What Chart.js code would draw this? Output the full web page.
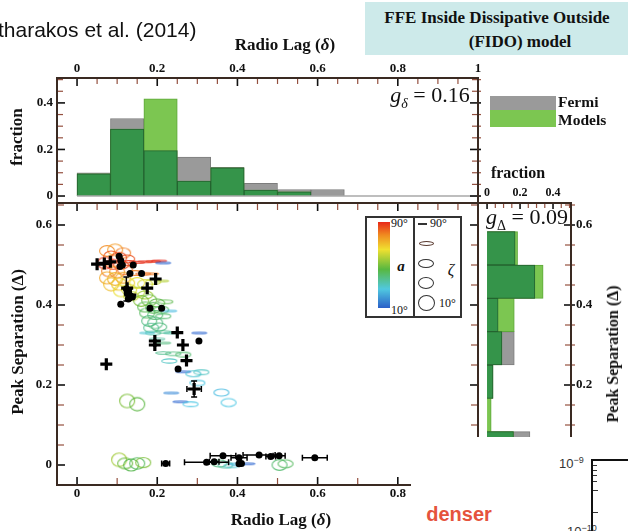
<!DOCTYPE html>
<html><head><meta charset="utf-8">
<script src="https://cdn.jsdelivr.net/npm/chart.js@4/dist/chart.umd.min.js"></script>
<style>
html,body{margin:0;padding:0;background:#fff;width:628px;height:531px;overflow:hidden;position:relative;font-family:"Liberation Serif",serif;}
canvas{position:absolute;left:0;top:0;}
.t{position:absolute;white-space:nowrap;color:#111;}
.c{transform:translate(-50%,-50%);}
.b{font-weight:bold;}
</style></head><body>
<canvas id="cTop" width="628" height="531"></canvas>
<canvas id="cMain" width="628" height="531"></canvas>
<canvas id="cRight" width="628" height="531"></canvas>

<div class="t" style="left:-2px;top:18px;font-family:'Liberation Sans',sans-serif;font-size:21px;">tharakos et al. (2014)</div>
<div style="position:absolute;left:365px;top:2px;width:263px;height:53px;background:#cdeaea;"></div>
<div class="t b c" style="left:497px;top:18px;font-size:17px;">FFE Inside Dissipative Outside</div>
<div class="t b c" style="left:520px;top:42px;font-size:17px;">(FIDO) model</div>

<div class="t b c" style="left:285px;top:45px;font-size:17px;">Radio Lag (<i>δ</i>)</div>
<div class="t b c" style="left:17px;top:137px;font-size:17px;transform:translate(-50%,-50%) rotate(-90deg);">fraction</div>
<div class="t c" style="left:430px;top:97px;font-size:22px;"><i>g</i><sub style="font-size:14px;"><i>δ</i></sub> = 0.16</div>
<div style="position:absolute;left:490px;top:96px;width:66px;height:14px;background:#9a9a9a;"></div>
<div style="position:absolute;left:490px;top:110px;width:66px;height:17px;background:#7cc651;"></div>
<div class="t b" style="left:558px;top:93px;font-size:15.5px;">Fermi</div>
<div class="t b" style="left:558px;top:111px;font-size:15.5px;">Models</div>

<div class="t b c" style="left:518px;top:173px;font-size:16px;">fraction</div>
<div class="t c" style="left:527px;top:219px;font-size:22px;"><i>g</i><sub style="font-size:14px;">Δ</sub> = 0.09</div>
<div class="t b c" style="left:18px;top:342px;font-size:17px;transform:translate(-50%,-50%) rotate(-90deg);">Peak Separation (Δ)</div>
<div class="t b c" style="left:613px;top:354px;font-size:16px;transform:translate(-50%,-50%) rotate(-90deg);">Peak Separation (Δ)</div>
<div class="t b c" style="left:281px;top:520px;font-size:17px;">Radio Lag (<i>δ</i>)</div>

<!-- colour / zeta legend -->
<div style="position:absolute;left:365px;top:216px;width:93px;height:98px;border:2px solid #333;background:#fff;"></div>
<div style="position:absolute;left:413px;top:216px;width:2px;height:102px;background:#333;"></div>
<div style="position:absolute;left:378px;top:222px;width:12px;height:86px;background:linear-gradient(to bottom,#e82818 0%,#f08a20 15%,#f0e030 32%,#58b840 55%,#50c8e0 78%,#2a5fc8 100%);"></div>
<div class="t" style="left:391px;top:216px;font-size:12px;">90°</div>
<div class="t" style="left:391px;top:303px;font-size:12px;">10°</div>
<div class="t b c" style="left:401px;top:266px;font-size:15px;"><i>a</i></div>
<div style="position:absolute;left:418px;top:223px;width:9px;height:1.5px;background:#333;"></div>
<div class="t" style="left:430px;top:216px;font-size:12px;">90°</div>
<div style="position:absolute;left:419px;top:241px;width:13px;height:3px;border:1px solid #5a3a30;border-radius:50%;"></div>
<div style="position:absolute;left:418px;top:259px;width:14px;height:7px;border:1.2px solid #333;border-radius:50%;"></div>
<div style="position:absolute;left:418px;top:277px;width:14px;height:10px;border:1.2px solid #333;border-radius:50%;"></div>
<div style="position:absolute;left:418px;top:295px;width:15px;height:14px;border:1.2px solid #333;border-radius:50%;"></div>
<div class="t c" style="left:451px;top:270px;font-size:16px;"><i>ζ</i></div>
<div class="t" style="left:439px;top:296px;font-size:12px;">10°</div>

<!-- overlay from the slide -->
<div style="position:absolute;left:411px;top:437px;width:217px;height:94px;background:#fff;"></div>
<div class="t b c" style="left:459px;top:514px;font-family:'Liberation Sans',sans-serif;font-size:20px;color:#e5533d;">denser</div>
<div class="t" style="left:559px;top:455px;font-family:'Liberation Sans',sans-serif;font-size:13px;color:#333;">10<sup style="font-size:9px;">−9</sup></div>
<div class="t" style="left:567px;top:523px;font-family:'Liberation Sans',sans-serif;font-size:13px;color:#333;">10<sup style="font-size:9px;">−10</sup></div>
<div style="position:absolute;left:591px;top:459px;width:40px;height:80px;border-left:2px solid #111;border-top:2px solid #111;"></div>
<div style="position:absolute;left:593px;top:465px;width:4px;height:1px;background:#333;"></div>
<div style="position:absolute;left:593px;top:470px;width:4px;height:1px;background:#333;"></div>
<div style="position:absolute;left:593px;top:475px;width:4px;height:1px;background:#333;"></div>
<div style="position:absolute;left:593px;top:481px;width:4px;height:1px;background:#333;"></div>
<div style="position:absolute;left:593px;top:490px;width:5px;height:1px;background:#333;"></div>
<div style="position:absolute;left:593px;top:512px;width:5px;height:1px;background:#333;"></div>

<script>
// ---------------- data ----------------
const lagTicks = [0, 0.2, 0.4, 0.6, 0.8, 1];
const lagTicksMain = [0, 0.2, 0.4, 0.6, 0.8];
const fracTicksTop = [0, 0.2, 0.4];
const sepTicks = [0, 0.2, 0.4, 0.6];
const sepTicksRight = [0.2, 0.4, 0.6];
const fracTicksRight = [0, 0.2, 0.4];

// Radio lag histogram (bins of width 1/12)
const lagBins   = [0.0417, 0.125, 0.2083, 0.2917, 0.375, 0.4583, 0.5417, 0.625];
const lagFermi  = [0.100, 0.333, 0.195, 0.167, 0.123, 0.055, 0.028, 0.028];
const lagModels = [0.095, 0.288, 0.417, 0.064, 0.121, 0.026, 0.018, 0];

// Peak separation histogram (bins of width 1/12)
const sepBins   = [0.0417, 0.125, 0.2083, 0.2917, 0.375, 0.4583, 0.5417];
const sepFermi  = [0.26, 0, 0.036, 0.165, 0.067, 0.29, 0.17];
const sepModels = [0.16, 0.025, 0.036, 0.09, 0.165, 0.34, 0.185];

// Model ellipses: position, alpha (colour) and zeta (shape)
const ellX = [0.075,0.095,0.115,0.085,0.105,0.125,0.07,0.09,0.11,0.13,0.15,0.17,0.19,0.205,0.215,
  0.08,0.10,0.12,0.145,0.165,0.185,0.075,0.095,0.115,0.085,0.105,0.125,0.15,0.17,0.19,0.21,
  0.11,0.13,0.15,0.17,0.135,0.16,0.18,0.20,0.22,0.17,0.19,0.21,0.23,0.175,0.195,0.215,
  0.18,0.195,0.185,0.205,0.19,0.215,0.235,0.175,0.20,0.215,0.305,
  0.215,0.24,0.265,0.23,0.265,0.29,0.31,0.30,0.235,0.36,0.125,0.15,0.258,0.283,0.378,
  0.105,0.12,0.135,0.15,0.165,0.355,0.37,0.385,0.40,0.425,0.505,0.52];
const ellY = [0.535,0.538,0.530,0.520,0.518,0.515,0.505,0.502,0.500,0.505,0.507,0.508,0.509,0.510,0.505,
  0.485,0.483,0.487,0.480,0.478,0.478,0.468,0.465,0.468,0.452,0.452,0.455,0.455,0.452,0.458,0.46,
  0.435,0.438,0.432,0.425,0.422,0.41,0.412,0.405,0.408,0.395,0.393,0.388,0.385,0.38,0.375,0.372,
  0.36,0.355,0.343,0.345,0.33,0.333,0.33,0.33,0.315,0.305,0.33,
  0.28,0.278,0.276,0.26,0.233,0.228,0.232,0.205,0.18,0.181,0.16,0.152,0.158,0.152,0.156,
  0.013,0.004,0.0,0.004,0.006,0.004,0.0,-0.002,0.002,0.003,0.0,0.003];
const ellA = [78,76,80,84,86,85,88,88,87,88,89,89,88,90,12,
  80,78,82,80,82,80,74,72,74,70,68,66,64,62,60,58,
  64,62,58,56,60,52,50,48,47,46,45,44,26,44,42,42,
  40,40,38,40,36,38,35,30,36,40,12,
  38,40,42,32,12,30,32,28,18,26,52,48,12,28,28,
  56,50,46,44,52,40,36,30,24,12,42,44];
const ellZ = [40,35,45,30,40,55,35,45,55,70,82,86,88,89,89,
  35,30,50,70,80,86,30,25,40,20,30,45,40,50,70,85,
  35,40,45,55,50,40,35,55,75,45,40,60,88,45,50,70,
  40,35,50,55,75,80,86,88,82,85,89,
  80,75,70,72,88,65,70,68,88,60,15,20,88,70,55,
  15,40,30,35,45,60,65,75,80,88,40,55];

// Fermi pulsars: black dots (with errors)
const dotX    = [0.105,0.109,0.113,0.107,0.14,0.132,0.161,0.123,0.125,0.132,0.138,0.128,0.109,0.182,0.211,0.304,0.252,
  0.221,0.323,0.342,0.364,0.404,0.404,0.41,0.454,0.483,0.504,0.593];
const dotY    = [0.522,0.511,0.50,0.496,0.50,0.479,0.479,0.44,0.43,0.424,0.42,0.415,0.402,0.392,0.392,0.31,0.24,
  0.004,0.007,0.008,0.023,0.018,0.003,0.004,0.025,0.021,0.023,0.018];
const dotXErr = [0,0,0,0,0,0,0,0,0,0,0,0,0,0,0,0,0,
  0.01,0.055,0.012,0.032,0.02,0,0,0.04,0.012,0.015,0.031];
const dotYErr = [0,0,0,0,0,0,0,0.03,0,0,0,0,0,0,0,0,0,
  0,0,0,0,0,0,0,0,0,0,0];
// Fermi pulsars: crosses
const plusX    = [0.05,0.068,0.083,0.125,0.133,0.196,0.175,0.194,0.194,0.25,0.264,0.073,0.273,0.292];
const plusY    = [0.502,0.504,0.508,0.442,0.425,0.465,0.442,0.31,0.30,0.331,0.30,0.252,0.261,0.19];
const plusXErr = [0,0,0,0,0,0,0,0,0,0,0,0,0,0.018];
const plusYErr = [0,0,0,0,0,0,0,0,0,0,0,0,0,0.02];

// ---------------- styling helpers ----------------
const FRAME = '#3a2a22';
const MINOR = '#94503f';
const GRAY = '#9a9a9a', LIGHT = '#7cc651', DARK = '#35944a';
const tickFont = {family:'Liberation Serif', weight:'bold', size:13};
const fmt = v => String(Math.round(v*100)/100);

function aColor(a){
  const st=[[10,[40,90,205]],[28,[80,200,228]],[48,[90,182,64]],[64,[232,222,44]],[77,[244,150,40]],[90,[230,40,28]]];
  if(a<=st[0][0]) return 'rgb('+st[0][1]+')';
  for(let i=1;i<st.length;i++){
    if(a<=st[i][0]){
      const f=(a-st[i-1][0])/(st[i][0]-st[i-1][0]);
      const c=st[i-1][1].map((v,k)=>Math.round(v+(st[i][1][k]-v)*f));
      return 'rgb('+c+')';
    }
  }
  return 'rgb('+st[st.length-1][1]+')';
}
function ellipseImg(a,z){
  const w=15, h=Math.max(1.6, 14*Math.cos(z*Math.PI/180));
  const c=document.createElement('canvas');
  c.width=w+3; c.height=Math.ceil(h)+3;
  const g=c.getContext('2d');
  g.strokeStyle=aColor(a); g.globalAlpha=0.9; g.lineWidth=1.1;
  g.beginPath(); g.ellipse(c.width/2,c.height/2,w/2,h/2,0,0,2*Math.PI); g.stroke();
  return c;
}
const ellImgs = ellX.map((_,i)=>ellipseImg(ellA[i],ellZ[i]));

const framePlugin = {
  id:'frameTicks',
  afterDatasetsDraw(chart, args, o){
    const {ctx, chartArea:a, scales} = chart;
    ctx.save();
    (o.baselines||[]).forEach(b=>{
      const sx=scales.x, sy=scales.y;
      ctx.strokeStyle='#a8a8a8'; ctx.lineWidth=1.5; ctx.beginPath();
      ctx.moveTo(sx.getPixelForValue(b.x0), sy.getPixelForValue(b.y));
      ctx.lineTo(sx.getPixelForValue(b.x1), sy.getPixelForValue(b.y)); ctx.stroke();
    });
    (o.ticks||[]).forEach(t=>{
      const sc = scales[t.scale];
      const n = Math.round((t.to-t.from)/t.step);
      for(let k=0;k<=n;k++){
        const v = t.from + k*t.step;
        const major = t.major && Math.abs(v/t.major-Math.round(v/t.major))<1e-6;
        const p = sc.getPixelForValue(v);
        const len = major ? (t.majorLen||t.len+2) : t.len;
        ctx.strokeStyle = major ? '#111' : MINOR;
        ctx.lineWidth = major ? 1.6 : 1.2;
        ctx.beginPath();
        if(t.edge==='top'){ctx.moveTo(p,a.top);ctx.lineTo(p,a.top+len);}
        if(t.edge==='bottom'){ctx.moveTo(p,a.bottom);ctx.lineTo(p,a.bottom-len);}
        if(t.edge==='left'){ctx.moveTo(a.left-(t.out||0),p);ctx.lineTo(a.left+len,p);}
        if(t.edge==='right'){ctx.moveTo(a.right+(t.out||0),p);ctx.lineTo(a.right-len,p);}
        ctx.stroke();
      }
    });
    ctx.strokeStyle=FRAME; ctx.lineWidth=2;
    ctx.strokeRect(a.left,a.top,a.right-a.left,a.bottom-a.top);
    ctx.restore();
  }
};
const errPlugin = {
  id:'errBars',
  afterDatasetsDraw(chart){
    const {ctx, scales:{x,y}} = chart;
    ctx.save(); ctx.strokeStyle='#000'; ctx.lineWidth=1.5;
    chart.data.datasets.forEach(ds=>{
      if(!ds.xErr) return;
      ds.data.forEach((p,i)=>{
        const px=x.getPixelForValue(p.x), py=y.getPixelForValue(p.y);
        if(ds.xErr[i]>0){
          const l=x.getPixelForValue(p.x-ds.xErr[i]), r=x.getPixelForValue(p.x+ds.xErr[i]);
          ctx.beginPath(); ctx.moveTo(l,py); ctx.lineTo(r,py);
          ctx.moveTo(l,py-3); ctx.lineTo(l,py+3); ctx.moveTo(r,py-3); ctx.lineTo(r,py+3); ctx.stroke();
        }
        if(ds.yErr[i]>0){
          const t=y.getPixelForValue(p.y+ds.yErr[i]), b=y.getPixelForValue(p.y-ds.yErr[i]);
          ctx.beginPath(); ctx.moveTo(px,t); ctx.lineTo(px,b);
          ctx.moveTo(px-3,t); ctx.lineTo(px+3,t); ctx.moveTo(px-3,b); ctx.lineTo(px+3,b); ctx.stroke();
        }
      });
    });
    ctx.restore();
  }
};

const fixTicks = arr => (s => { s.ticks = arr.map(v=>({value:v})); });
const noGrid = {display:false, drawTicks:false};
const base = {responsive:false, animation:false, devicePixelRatio:1,
  plugins:{legend:{display:false}, tooltip:{enabled:false}}};

// ---------------- top histogram ----------------
const minVals = (a,b)=>a.map((v,i)=>Math.min(v,b[i]));
const pts = (xs,ys)=>xs.map((x,i)=>({x:x, y:ys[i]>0?ys[i]:null}));
const ptsH = (ys,xs)=>ys.map((y,i)=>({y:y, x:xs[i]>0?xs[i]:null}));

new Chart(document.getElementById('cTop'), {
  type:'bar',
  data:{datasets:[
    {label:'Overlap', data:pts(lagBins,minVals(lagFermi,lagModels)), backgroundColor:DARK, borderColor:'#24632f', borderWidth:1, order:0},
    {label:'Models', data:pts(lagBins,lagModels), backgroundColor:LIGHT, borderColor:'#5ea83a', borderWidth:1, order:1},
    {label:'Fermi', data:pts(lagBins,lagFermi), backgroundColor:GRAY, borderColor:'#7d7d7d', borderWidth:1, order:2}
  ]},
  options:Object.assign({}, base, {
    layout:{padding:{left:0, top:0, right:150, bottom:328}},
    datasets:{bar:{grouped:false, barPercentage:1, categoryPercentage:1}},
    scales:{
      x:{type:'linear', position:'top', min:-0.05, max:1.0, offset:false, grid:noGrid, border:{display:false},
         afterBuildTicks:fixTicks(lagTicks), afterFit:s=>{s.height=78;},
         ticks:{font:tickFont, color:'#111', padding:2, maxRotation:0, callback:fmt}},
      y:{type:'linear', min:-0.03, max:0.507, grid:noGrid, border:{display:false},
         afterBuildTicks:fixTicks(fracTicksTop), afterFit:s=>{s.width=57;},
         ticks:{font:tickFont, color:'#111', padding:4, callback:fmt}}
    },
    plugins:Object.assign({}, base.plugins, {frameTicks:{
      baselines:[{x0:0,x1:1,y:0}],
      ticks:[
        {scale:'x', edge:'top', from:0, to:1, step:0.05, len:6, major:0.2, majorLen:8},
        {scale:'y', edge:'left', from:0, to:0.5, step:0.05, len:6, major:0.2, majorLen:8, out:0},
        {scale:'y', edge:'right', from:0, to:0.5, step:0.05, len:6, major:0.2, majorLen:8, out:3}
      ]}})
  }),
  plugins:[framePlugin]
});

// ---------------- main scatter ----------------
new Chart(document.getElementById('cMain'), {
  type:'scatter',
  data:{datasets:[
    {label:'Fermi (cross)', data:plusX.map((x,i)=>({x:x,y:plusY[i]})), xErr:plusXErr, yErr:plusYErr,
      pointStyle:'cross', pointRadius:6, borderColor:'#000', borderWidth:3.2, order:0},
    {label:'Fermi', data:dotX.map((x,i)=>({x:x,y:dotY[i]})), xErr:dotXErr, yErr:dotYErr,
      pointStyle:'circle', pointRadius:3.5, backgroundColor:'#000', borderColor:'#000', borderWidth:0, order:1},
    {label:'Models', data:ellX.map((x,i)=>({x:x,y:ellY[i]})),
      pointStyle:ctx=>ellImgs[ctx.dataIndex], pointRadius:7, order:2}
  ]},
  options:Object.assign({}, base, {
    layout:{padding:{left:0, top:203, right:150, bottom:0}},
    scales:{
      x:{type:'linear', position:'bottom', min:-0.05, max:1.0, grid:noGrid, border:{display:false},
         afterBuildTicks:fixTicks(lagTicksMain), afterFit:s=>{s.height=46;},
         ticks:{font:tickFont, color:'#111', padding:1, maxRotation:0, callback:fmt}},
      y:{type:'linear', min:-0.05, max:0.655, grid:noGrid, border:{display:false},
         afterBuildTicks:fixTicks(sepTicks), afterFit:s=>{s.width=57;},
         ticks:{font:tickFont, color:'#111', padding:5, callback:fmt}}
    },
    plugins:Object.assign({}, base.plugins, {frameTicks:{
      ticks:[
        {scale:'x', edge:'top', from:0, to:1, step:0.05, len:7, major:0.2, majorLen:8},
        {scale:'x', edge:'bottom', from:0, to:1, step:0.1, len:7, major:0.2, majorLen:8},
        {scale:'y', edge:'left', from:0, to:0.65, step:0.05, len:7, major:0.2, majorLen:8, out:0},
        {scale:'y', edge:'right', from:0, to:0.65, step:0.05, len:7, major:0.2, majorLen:8, out:0}
      ]}})
  }),
  plugins:[errPlugin, framePlugin]
});

// ---------------- right histogram ----------------
new Chart(document.getElementById('cRight'), {
  type:'bar',
  data:{datasets:[
    {label:'Overlap', data:ptsH(sepBins,minVals(sepFermi,sepModels)), backgroundColor:DARK, borderColor:'#24632f', borderWidth:1, order:0},
    {label:'Models', data:ptsH(sepBins,sepModels), backgroundColor:LIGHT, borderColor:'#5ea83a', borderWidth:1, order:1},
    {label:'Fermi', data:ptsH(sepBins,sepFermi), backgroundColor:GRAY, borderColor:'#7d7d7d', borderWidth:1, order:2}
  ]},
  options:Object.assign({}, base, {
    indexAxis:'y',
    layout:{padding:{left:478, top:0, right:0, bottom:93}},
    datasets:{bar:{grouped:false, barPercentage:1, categoryPercentage:1}},
    scales:{
      x:{type:'linear', position:'top', min:-0.055, max:0.509, grid:noGrid, border:{display:false},
         afterBuildTicks:fixTicks(fracTicksRight), afterFit:s=>{s.height=203;},
         ticks:{font:{family:'Liberation Serif', weight:'bold', size:12}, color:'#111', padding:3, maxRotation:0, callback:fmt}},
      y:{type:'linear', position:'right', min:0.0675, max:0.655, offset:false, grid:noGrid, border:{display:false},
         afterBuildTicks:fixTicks(sepTicksRight), afterFit:s=>{s.width=57;},
         ticks:{font:tickFont, color:'#111', padding:5, callback:fmt}}
    },
    plugins:Object.assign({}, base.plugins, {frameTicks:{
      ticks:[
        {scale:'x', edge:'top', from:0, to:0.5, step:0.05, len:5, major:0.2, majorLen:6},
        {scale:'y', edge:'right', from:0.1, to:0.65, step:0.05, len:6, major:0.2, majorLen:7, out:4}
      ]}})
  }),
  plugins:[framePlugin]
});
</script>
</body></html>
